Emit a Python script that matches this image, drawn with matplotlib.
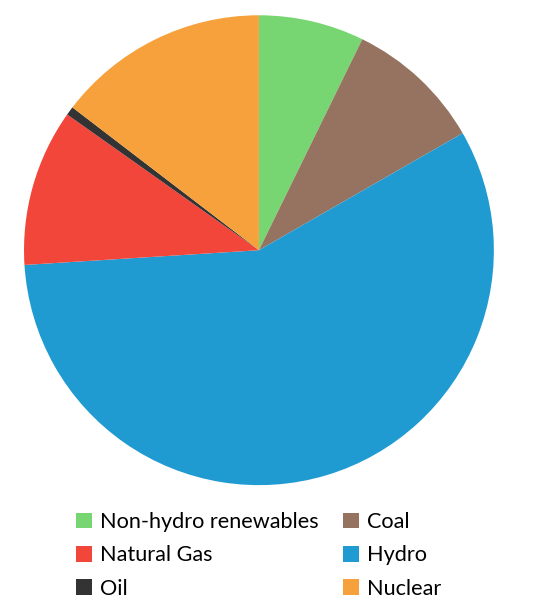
import matplotlib.pyplot as plt
from matplotlib.patches import Patch

plt.rcParams['font.family'] = ['Lato', 'DejaVu Sans']

# pie order: clockwise from the top
sources = ['Non-hydro renewables', 'Coal', 'Hydro', 'Natural Gas', 'Oil', 'Nuclear']
shares = [7.25, 9.45, 57.3, 10.8, 0.6, 14.6]
colors = ['#77d672', '#967261', '#209bd2', '#f2463a', '#333333', '#f6a13b']

# legend order (two columns, filled column by column)
legend_order = ['Non-hydro renewables', 'Natural Gas', 'Oil', 'Coal', 'Hydro', 'Nuclear']

fig = plt.figure(figsize=(5.34, 6.11), dpi=100)
ax = fig.add_axes([0.0449, 0.206, 0.880, 0.769])
ax.pie(shares, colors=colors, startangle=90, counterclock=False,
       radius=1.0, wedgeprops={'linewidth': 0})
ax.set_xlim(-1, 1)
ax.set_ylim(-1, 1)
ax.set_aspect('equal')
ax.axis('off')

col = dict(zip(sources, colors))
handles = [Patch(facecolor=col[s], edgecolor='none', label=s) for s in legend_order]
fig.legend(handles=handles, ncol=2, loc='upper left',
           bbox_to_anchor=(0.142, 0.162), frameon=False,
           fontsize=15.6, handlelength=0.75, handleheight=0.75,
           handletextpad=0.37, columnspacing=1.12, labelspacing=0.62,
           borderaxespad=0, borderpad=0)

fig.savefig('out.png', dpi=100)
